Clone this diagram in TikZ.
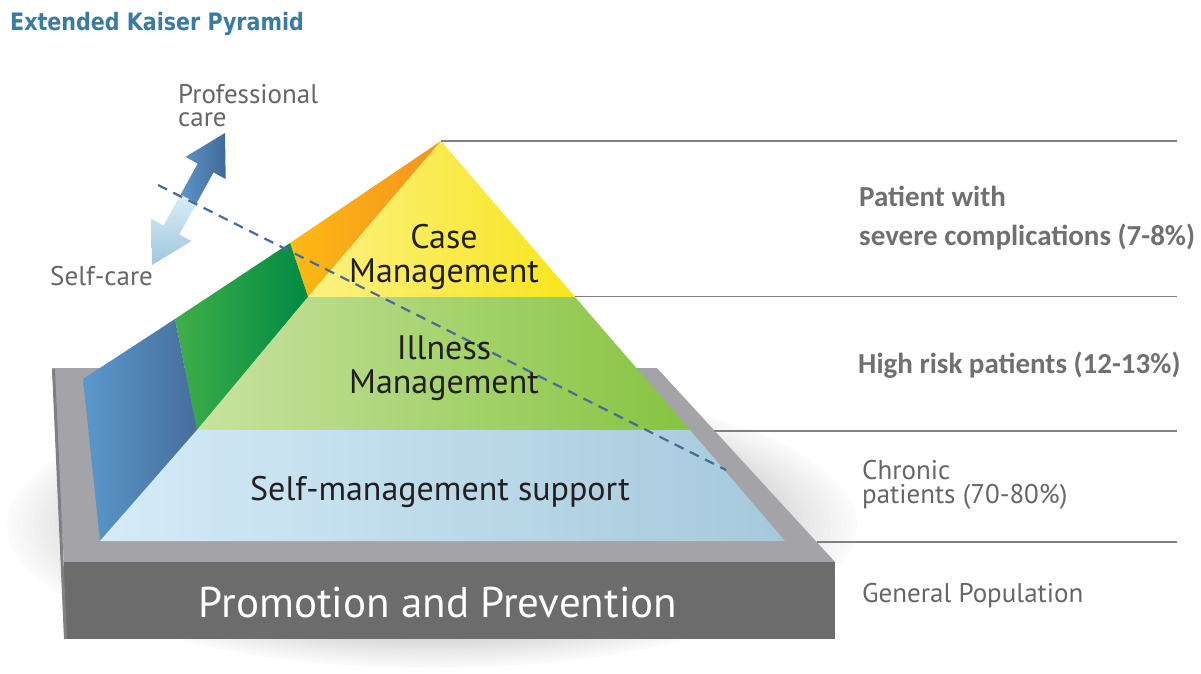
\documentclass[tikz,border=0pt]{standalone}
\usepackage{fontspec}
\setmainfont{PT Sans}
\newfontfamily\labfont{Carlito}
\newfontfamily\titfont[FakeStretch=0.86]{DejaVu Sans}
\definecolor{titblue}{RGB}{58,122,163}
\definecolor{txtdark}{RGB}{35,31,32}
\definecolor{lblgray}{RGB}{112,112,112}
\definecolor{reggray}{RGB}{102,102,106}
\definecolor{linegray}{RGB}{128,128,128}
\definecolor{slabtop}{RGB}{164,164,168}
\definecolor{slabedge}{RGB}{128,128,132}
\definecolor{slabfront}{RGB}{108,108,108}
\definecolor{orangeL}{RGB}{252,186,20}
\definecolor{orangeR}{RGB}{246,146,30}
\definecolor{yellowL}{RGB}{251,241,130}
\definecolor{yellowR}{RGB}{248,229,28}
\definecolor{greenL}{RGB}{64,174,73}
\definecolor{greenR}{RGB}{0,138,68}
\definecolor{illL}{RGB}{200,226,160}
\definecolor{illR}{RGB}{134,196,64}
\definecolor{blueL}{RGB}{90,152,204}
\definecolor{blueR}{RGB}{70,110,156}
\definecolor{smsL}{RGB}{213,235,247}
\definecolor{smsR}{RGB}{165,201,220}
\definecolor{dashblue}{RGB}{74,106,152}
\definecolor{arrDL}{RGB}{91,150,200}
\definecolor{arrDR}{RGB}{65,105,154}
\definecolor{arrLT}{RGB}{217,238,248}
\definecolor{arrLB}{RGB}{160,198,221}
\tikzset{
  pyrtext/.style={anchor=base, inner sep=0pt, text=txtdark, font=\fontsize{34}{34}\selectfont, align=center},
  boldlbl/.style={anchor=base west, inner sep=0pt, text=lblgray, font=\labfont\bfseries\fontsize{29}{32}\selectfont},
  reglbl/.style={anchor=base west, inner sep=0pt, text=reggray, font=\fontsize{27}{24}\selectfont, align=left},
  hline/.style={draw=linegray, line width=1.5pt},
  face/.style={draw=none}
}
\begin{document}
\begin{tikzpicture}[x=1pt,y=-1pt]
\useasboundingbox (0,0) rectangle (1201,674);
\fill[white] (0,0) rectangle (1201,674);
% shadow (stepped soft ellipse)
\foreach \i in {0,...,16}{
  \pgfmathsetmacro{\f}{1-0.0125*\i}
  \pgfmathsetmacro{\c}{1.5+0.85*\i}
  \fill[black!\c] (432,525) ellipse [x radius=425*\f, y radius=143*\f];
}
% slab
\coordinate (s1) at (52,368);
\coordinate (s2) at (657,368);
\coordinate (s3) at (835,562);
\coordinate (s4) at (64,562);
\coordinate (s5) at (835,639);
\coordinate (s6) at (64,639);
\fill[slabtop] (s1) -- (s2) -- (s3) -- (s4) -- cycle;
\fill[slabfront] (s4) rectangle (s5);
\draw[slabedge, line width=3pt] (53.5,369) -- (65.5,639);
% pyramid key points
\coordinate (apex) at (441,141);
\coordinate (o1) at (290,243);
\coordinate (y1) at (308,297);
\coordinate (y2) at (575,297);
\coordinate (g1) at (175,319);
\coordinate (g2) at (197,430);
\coordinate (g3) at (690,430);
\coordinate (b1) at (83,379);
\coordinate (b2) at (100,541);
\coordinate (b3) at (785,541);
% faces
\shade[face, left color=orangeL, right color=orangeR] (apex) -- (o1) -- (y1) -- cycle;
\shade[face, left color=yellowL, right color=yellowR] (apex) -- (y1) -- (y2) -- cycle;
\shade[face, left color=greenL, right color=greenR] (o1) -- (g1) -- (g2) -- (y1) -- cycle;
\shade[face, left color=illL, right color=illR] (y1) -- (y2) -- (g3) -- (g2) -- cycle;
\shade[face, left color=blueL, right color=blueR] (g1) -- (b1) -- (b2) -- (g2) -- cycle;
\shade[face, left color=smsL, right color=smsR] (g2) -- (g3) -- (b3) -- (b2) -- cycle;
% arrow
\shade[left color=arrDL, right color=arrDR] (225,133) -- (225.7,179.1) -- (213.5,172.4) -- (196.4,203.4) -- (180.6,194.6) -- (197.7,163.6) -- (185.5,156.9) -- cycle;
\shade[top color=arrLT, bottom color=arrLB] (152,265) -- (151.3,218.9) -- (163.5,225.6) -- (180.6,194.6) -- (196.4,203.4) -- (179.3,234.4) -- (191.5,241.1) -- cycle;
% dashed line
\coordinate (d1) at (158,185);
\coordinate (d2) at (726,470);
\draw[dashblue, line width=2.2pt, dash pattern=on 10pt off 7pt] (d1) -- (d2);
% horizontal lines
\coordinate (r1) at (1177,141);
\coordinate (r2) at (1177,296.5);
\coordinate (r3) at (1177,431);
\coordinate (r4) at (1177,542);
\coordinate (l2) at (575,296.5);
\coordinate (l3) at (714,431);
\coordinate (l4) at (817,542);
\draw[hline] (apex) -- (r1);
\draw[hline] (l2) -- (r2);
\draw[hline] (l3) -- (r3);
\draw[hline] (l4) -- (r4);
% title
\node[anchor=base west, inner sep=0pt, text=titblue, font=\titfont\bfseries\fontsize{24}{28}\selectfont] (title) at (10,31) {Extended Kaiser Pyramid};
% left labels
\node[reglbl] (prof) at (178,127) {Professional\\care};
\node[reglbl] (self) at (50,285) {Self-care};
% pyramid labels
\node[pyrtext] (case) at (444,282) {Case\\Management};
\node[pyrtext] (ill) at (444,393) {Illness\\Management};
\node[pyrtext] (sms) at (440,500) {Self-management support};
\node[pyrtext, text=white, font=\fontsize{43}{47}\selectfont] (promo) at (438,617) {Promotion and Prevention};
% right labels
\node[boldlbl] (p1) at (859,206) {Patient with};
\node[boldlbl] (p2) at (859,245) {severe complications (7-8\%)};
\node[boldlbl] (p3) at (858,373) {High risk patients (12-13\%)};
\node[reglbl] (chron) at (862,503) {Chronic\\patients (70-80\%)};
\node[reglbl] (p6) at (862,602) {General Population};
\end{tikzpicture}
\end{document}
